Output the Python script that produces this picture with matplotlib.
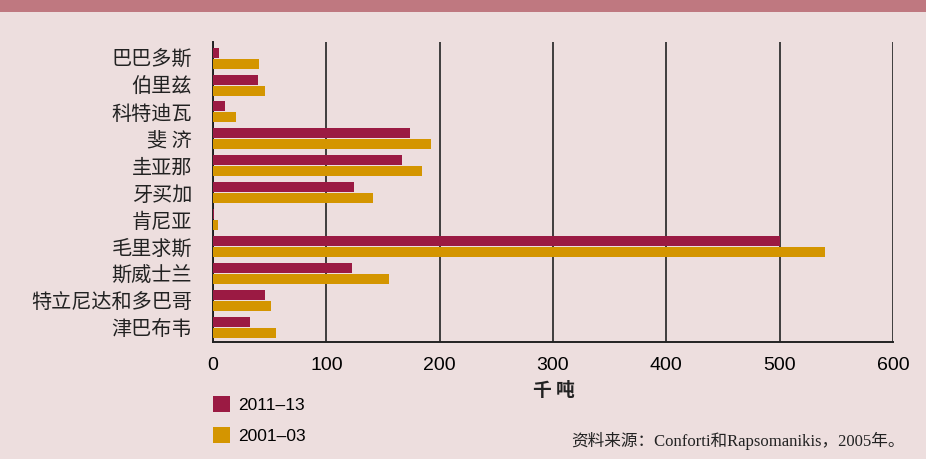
import matplotlib
matplotlib.use("Agg")
import numpy as np
import matplotlib.pyplot as plt
from matplotlib.patches import Patch

# ---------- DATA ----------
countries = ["巴巴多斯", "伯里兹", "科特迪瓦", "斐 济", "圭亚那", "牙买加",
             "肯尼亚", "毛里求斯", "斯威士兰", "特立尼达和多巴哥", "津巴布韦"]
vals_2011 = [5, 40, 11, 174, 167, 124, 0.5, 500, 123, 46, 33]
vals_2001 = [41, 46, 20, 192, 184, 141, 4, 540, 155, 51, 56]
series_names = ["2011–13", "2001–03"]
xticks = [0, 100, 200, 300, 400, 500, 600]

bg = "#EDDEDE"
band = "#BF7880"
red = "#9B1A43"
gold = "#D49500"
cjk = ["Noto Sans CJK SC", "DejaVu Sans"]

fig = plt.figure(figsize=(9.26, 4.59), dpi=100, facecolor=bg)
# barra no topo
fig.patches.append(plt.Rectangle((0, 1 - 12 / 459), 1, 12 / 459, transform=fig.transFigure,
                                 facecolor=band, edgecolor="none"))

ax = fig.add_axes([213 / 926, 1 - 342 / 459, 680 / 926, 300 / 459])
ax.set_facecolor(bg)

y = np.arange(len(countries))
h = 0.37
ax.barh(y - h / 2 - 0.02, vals_2011, height=h, color=red, zorder=3)
ax.barh(y + h / 2 + 0.02, vals_2001, height=h, color=gold, zorder=3)

ax.set_ylim(len(countries) - 0.45, -0.6)
ax.set_xlim(0, 600)
ax.set_xticks(xticks)
ax.set_xticklabels([str(t) for t in xticks], family="Liberation Sans", fontsize=14)
ax.set_yticks(y)
ax.set_yticklabels(countries, family=cjk, fontsize=14.5, color="#222222")
ax.tick_params(axis="both", length=0)
ax.tick_params(axis="x", pad=11)
ax.tick_params(axis="y", pad=15)

ax.grid(axis="x", color="#222222", linewidth=1.2, zorder=1)
for s in ["top", "right"]:
    ax.spines[s].set_visible(False)
for s in ["left", "bottom"]:
    ax.spines[s].set_color("#222222")
    ax.spines[s].set_linewidth(1.4)

fig.text(554 / 926, 1 - 390 / 459, "千 吨", family=cjk, fontsize=13.5, ha="center", va="center",
         weight="bold", color="#222222")

handles = [Patch(facecolor=red), Patch(facecolor=gold)]
fig.legend(handles, series_names, loc="upper left", bbox_to_anchor=(213 / 926, 1 - 396 / 459),
           frameon=False, prop={"family": "Liberation Sans", "size": 12.5},
           borderpad=0, borderaxespad=0,
           handlelength=1.0, handleheight=1.0, handletextpad=0.45, labelspacing=0.85)

fig.text(905 / 926, 1 - 441 / 459, "资料来源：Conforti和Rapsomanikis，2005年。",
         family=["Liberation Serif", "Noto Sans CJK SC"], fontsize=12, ha="right", va="center",
         color="#222222")

fig.savefig("out.png", dpi=100, facecolor=bg)
